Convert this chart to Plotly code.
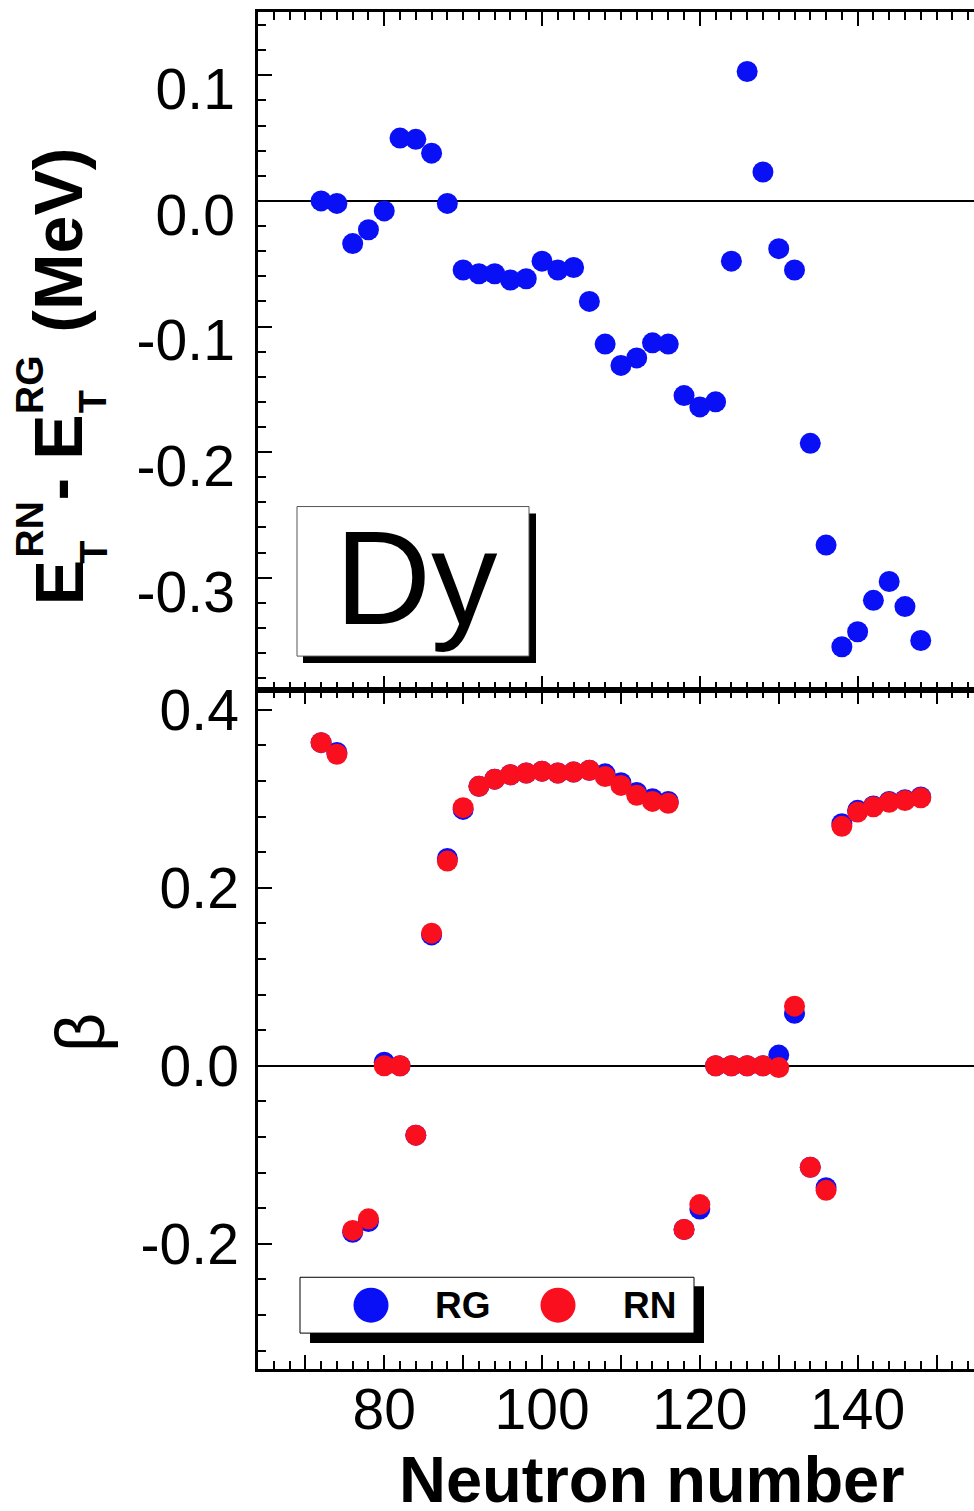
import plotly.graph_objects as go

# ---------------- data ----------------
neutron = [72, 74, 76, 78, 80, 82, 84, 86, 88, 90, 92, 94, 96, 98, 100, 102, 104, 106, 108, 110,
           112, 114, 116, 118, 120, 122, 124, 126, 128, 130, 132, 134, 136, 138, 140, 142, 144, 146, 148]

dE = [0.000, -0.002, -0.034, -0.023, -0.008, 0.050, 0.049, 0.038, -0.002, -0.055,
      -0.058, -0.058, -0.063, -0.062, -0.048, -0.055, -0.053, -0.080, -0.114, -0.131,
      -0.125, -0.113, -0.114, -0.155, -0.164, -0.160, -0.048, 0.103, 0.023, -0.038,
      -0.055, -0.193, -0.274, -0.355, -0.343, -0.318, -0.303, -0.323, -0.350]

beta_RG = [0.363, 0.352, -0.187, -0.175, 0.004, 0.000, -0.078, 0.147, 0.233, 0.288,
           0.314, 0.322, 0.327, 0.329, 0.331, 0.329, 0.330, 0.332, 0.328, 0.318,
           0.307, 0.300, 0.297, -0.184, -0.161, 0.000, 0.000, 0.000, 0.000, 0.012,
           0.059, -0.114, -0.137, 0.272, 0.287, 0.292, 0.297, 0.299, 0.302]

beta_RN = [0.363, 0.350, -0.185, -0.172, 0.000, 0.000, -0.078, 0.149, 0.230, 0.290,
           0.314, 0.322, 0.327, 0.329, 0.331, 0.329, 0.330, 0.332, 0.325, 0.315,
           0.304, 0.297, 0.295, -0.184, -0.156, 0.000, 0.000, 0.000, 0.000, -0.002,
           0.067, -0.114, -0.140, 0.269, 0.285, 0.291, 0.296, 0.298, 0.301]

x_major = [70, 80, 90, 100, 110, 120, 130, 140, 150]
x_labels = ["", "80", "", "100", "", "120", "", "140", ""]
top_y_ticks = [-0.3, -0.2, -0.1, 0.0, 0.1]
top_y_labels = ["-0.3", "-0.2", "-0.1", "0.0", "0.1"]
bot_y_ticks = [-0.2, 0.0, 0.2, 0.4]
bot_y_labels = ["-0.2", "0.0", "0.2", "0.4"]

BLUE = "#0A10F6"
RED = "#FA0F1E"
FONT = "Liberation Sans, Arial, sans-serif"

# ---------------- geometry ----------------
W, H = 974, 1511
L, R, T, B = 258, 0, 8, 142
PW = W - L - R
PH = H - T - B
split = (H - B - 688) / PH


def px(xp):
    return (xp - L) / PW


def py(yp):
    return (H - B - yp) / PH


fig = go.Figure()
fig.add_trace(go.Scatter(x=neutron, y=dE, mode="markers", xaxis="x", yaxis="y",
                         marker=dict(color=BLUE, size=21, line=dict(width=0)), showlegend=False))
fig.add_trace(go.Scatter(x=neutron, y=beta_RG, mode="markers", xaxis="x2", yaxis="y2",
                         marker=dict(color=BLUE, size=21, line=dict(width=0)), name="RG", showlegend=False))
fig.add_trace(go.Scatter(x=neutron, y=beta_RN, mode="markers", xaxis="x2", yaxis="y2",
                         marker=dict(color=RED, size=21, line=dict(width=0)), name="RN", showlegend=False))

xrange_ = [64.0, 154.75]
top_range = [-0.3894, 0.1504]
bot_range = [-0.3407, 0.4222]

common_x = dict(range=xrange_, tickmode="array", tickvals=x_major, ticktext=x_labels,
                ticks="inside", ticklen=14, tickwidth=2, tickcolor="black",
                showline=True, linecolor="black", linewidth=2.5, mirror="ticks",
                showgrid=False, zeroline=False,
                minor=dict(tickmode="linear", tick0=70, dtick=2, ticks="inside", ticklen=8,
                           tickwidth=2, tickcolor="black", showgrid=False),
                tickfont=dict(family=FONT, size=57, color="black"))

common_y = dict(ticks="inside", ticklen=14, tickwidth=2, tickcolor="black",
                showline=True, linecolor="black", linewidth=2.5, mirror=False,
                showgrid=False, zeroline=True, zerolinecolor="black", zerolinewidth=2,
                tickfont=dict(family=FONT, size=57, color="black"))

fig.update_layout(
    width=W, height=H,
    margin=dict(l=L, r=R, t=T, b=B, pad=0),
    paper_bgcolor="white", plot_bgcolor="white",
    showlegend=False,
    xaxis=dict(domain=[0, 1], anchor="y", showticklabels=False, **common_x),
    yaxis=dict(domain=[split, 1], anchor="x", range=top_range, tickmode="array",
               tickvals=top_y_ticks, ticktext=top_y_labels, ticklabelstandoff=9,
               ticklabelshift=14,
               minor=dict(tickmode="linear", tick0=0, dtick=0.02, ticks="inside", ticklen=8,
                          tickwidth=2, tickcolor="black", showgrid=False),
               **common_y),
    xaxis2=dict(domain=[0, 1], anchor="y2", showticklabels=True, ticklabelstandoff=-11, **common_x),
    yaxis2=dict(domain=[0, split], anchor="x2", range=bot_range, tickmode="array",
                tickvals=bot_y_ticks, ticktext=bot_y_labels, ticklabelstandoff=5,
                minor=dict(tickmode="linear", tick0=0, dtick=0.04, ticks="inside", ticklen=8,
                           tickwidth=2, tickcolor="black", showgrid=False),
                **common_y),
    # short right-edge stubs
    yaxis3=dict(overlaying="y", side="right", anchor="x", range=top_range, tickmode="array",
                tickvals=top_y_ticks, ticks="inside", ticklen=4, tickwidth=2, tickcolor="black",
                showticklabels=False, showline=False, showgrid=False, zeroline=False),
    yaxis4=dict(overlaying="y2", side="right", anchor="x2", range=bot_range, tickmode="array",
                tickvals=bot_y_ticks, ticks="inside", ticklen=4, tickwidth=2, tickcolor="black",
                showticklabels=False, showline=False, showgrid=False, zeroline=False),
)

shapes = []
annotations = []

# ---- "Dy" label box ----
shapes.append(dict(type="rect", xref="paper", yref="paper", x0=px(303), x1=px(536), y0=py(661), y1=py(511),
                   fillcolor="black", line=dict(width=0), layer="above"))
shapes.append(dict(type="rect", xref="paper", yref="paper", x0=px(297), x1=px(529), y0=py(654), y1=py(504),
                   fillcolor="white", line=dict(color="#555555", width=1), layer="above"))
annotations.append(dict(text="Dy", xref="paper", yref="paper", x=px(416), y=py(576), xanchor="center",
                        yanchor="middle", showarrow=False, font=dict(family=FONT, size=133, color="black")))

# ---- legend box ----
shapes.append(dict(type="rect", xref="paper", yref="paper", x0=px(310), x1=px(704), y0=py(1343), y1=py(1286),
                   fillcolor="black", line=dict(width=0), layer="above"))
shapes.append(dict(type="rect", xref="paper", yref="paper", x0=px(300), x1=px(694), y0=py(1333), y1=py(1277),
                   fillcolor="white", line=dict(color="black", width=1), layer="above"))
for cx, col in [(371, BLUE), (558, RED)]:
    shapes.append(dict(type="circle", xref="paper", yref="paper", x0=px(cx - 17.5), x1=px(cx + 17.5),
                       y0=py(1305 + 17.5), y1=py(1305 - 17.5), fillcolor=col, line=dict(width=0), layer="above"))
for tx, txt in [(463, "RG"), (649, "RN")]:
    annotations.append(dict(text="<b>%s</b>" % txt, xref="paper", yref="paper", x=px(tx), y=py(1305.5),
                            xanchor="center", yanchor="middle", showarrow=False,
                            font=dict(family=FONT, size=37, color="black")))


# ---- y-axis titles built from rotated pieces ----
def rot(text, x, y, size, bold=True):
    t = "<b>%s</b>" % text if bold else text
    annotations.append(dict(text=t, xref="paper", yref="paper", x=px(x), y=py(y), xanchor="center",
                            yanchor="middle", textangle=-90, showarrow=False,
                            font=dict(family=FONT, size=size, color="black")))

rot("E", 58.4, 580.5, 68)
rot("RN", 29.5, 527.5, 39)
rot("T", 93.8, 549.5, 38)
rot("-", 58.4, 486.5, 68)
rot("E", 58.4, 434.5, 68)
rot("RG", 29.5, 381.5, 39)
rot("T", 93.8, 398.5, 38)
rot("(MeV)", 58.4, 237, 68)
rot("β", 80, 1032, 68, bold=False)

# ---- x-axis title ----
annotations.append(dict(text="<b>Neutron number</b>", xref="paper", yref="paper", x=px(652), y=py(1480),
                        xanchor="center", yanchor="middle", showarrow=False,
                        font=dict(family=FONT, size=65, color="black")))

fig.update_layout(shapes=shapes, annotations=annotations)
fig.write_html("out.html")
